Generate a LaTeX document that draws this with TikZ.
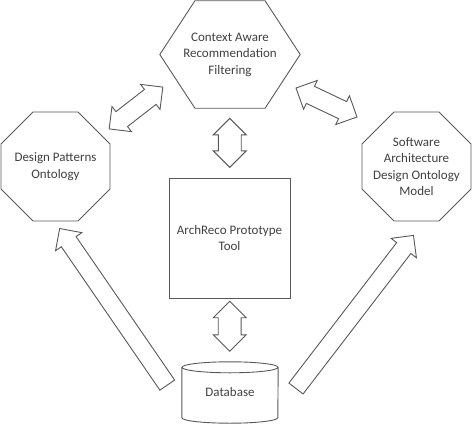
\documentclass[tikz,border=0pt]{standalone}
\usepackage{fontspec}
\setmainfont{Carlito}
\usetikzlibrary{shapes.geometric,shapes.arrows,calc}
\definecolor{linegray}{RGB}{89,89,89}
\definecolor{textgray}{RGB}{64,64,64}
\tikzset{
  every node/.style={font=\fontsize{13pt}{16.5pt}\selectfont, text=textgray, align=center},
  outline/.style={draw=linegray, line width=0.9pt},
  hexbox/.style={minimum width=140pt, minimum height=107pt, inner sep=0pt},
  octa/.style={outline, regular polygon, regular polygon sides=8, minimum size=118pt, inner sep=0pt},
  fatarrow/.style={outline, fill=white, single arrow, single arrow head extend=7pt,
    inner xsep=0pt, inner ysep=8.5pt, minimum width=31pt},
  dblarrow/.style={outline, fill=white, double arrow, double arrow head extend=6.5pt,
    inner xsep=0pt, inner ysep=9pt, minimum width=31pt},
  uparrow/.style={dblarrow, double arrow head extend=5pt, inner ysep=11pt, minimum width=32pt, rotate=90}
}
\begin{document}
\begin{tikzpicture}[x=1pt,y=1pt]
  \useasboundingbox (0,0) rectangle (473,424);
  \node[hexbox] (filter) at (230,369.5) {Context Aware\\Recommendation\\Filtering};
  \draw[outline] (filter.west)
    -- ($(filter.north west)!0.25!(filter.north east)$)
    -- ($(filter.north west)!0.75!(filter.north east)$)
    -- (filter.east)
    -- ($(filter.south west)!0.75!(filter.south east)$)
    -- ($(filter.south west)!0.25!(filter.south east)$) -- cycle;
  \node[octa, label={center:Design Patterns\\Ontology}] (dpo) at (55.5,257.5) {};
  \node[octa, label={center:Software\\Architecture\\Design Ontology\\Model}] (sado) at (416.5,257.5) {};
  \node[outline, minimum width=121pt, minimum height=120pt] (tool) at (229.5,186) {ArchReco Prototype\\Tool};
  \node[minimum width=96pt, minimum height=61pt] (db) at (230,31.5) {Database};
  \draw[outline] ([yshift=-5.5pt]db.north) ellipse [x radius=48pt, y radius=5.5pt];
  \draw[outline] ([yshift=-5.5pt]db.north west) -- ([yshift=5.5pt]db.south west)
    arc[start angle=180, end angle=360, x radius=48pt, y radius=5.5pt]
    -- ([yshift=-5.5pt]db.north east);
  \begin{scope}
    \node[fatarrow, minimum height=190pt, rotate=124.5] (db-dpo) at (116,113.5) {};
    \node[fatarrow, minimum height=193pt, rotate=52.5] (db-sado) at (352,108.5) {};
    \node[dblarrow, minimum height=68pt, rotate=37.9] (dpo-filter) at (136,316) {};
    \node[dblarrow, minimum height=67.5pt, rotate=-25.4] (filter-sado) at (326.5,321.5) {};
    \node[uparrow, minimum height=49pt] (filter-tool) at ($(filter.south)!0.5!(tool.north)$) {};
    \node[uparrow, minimum height=50pt] (tool-db) at ($(tool.south)!0.44!(db.north)$) {};
  \end{scope}
\end{tikzpicture}
\end{document}
